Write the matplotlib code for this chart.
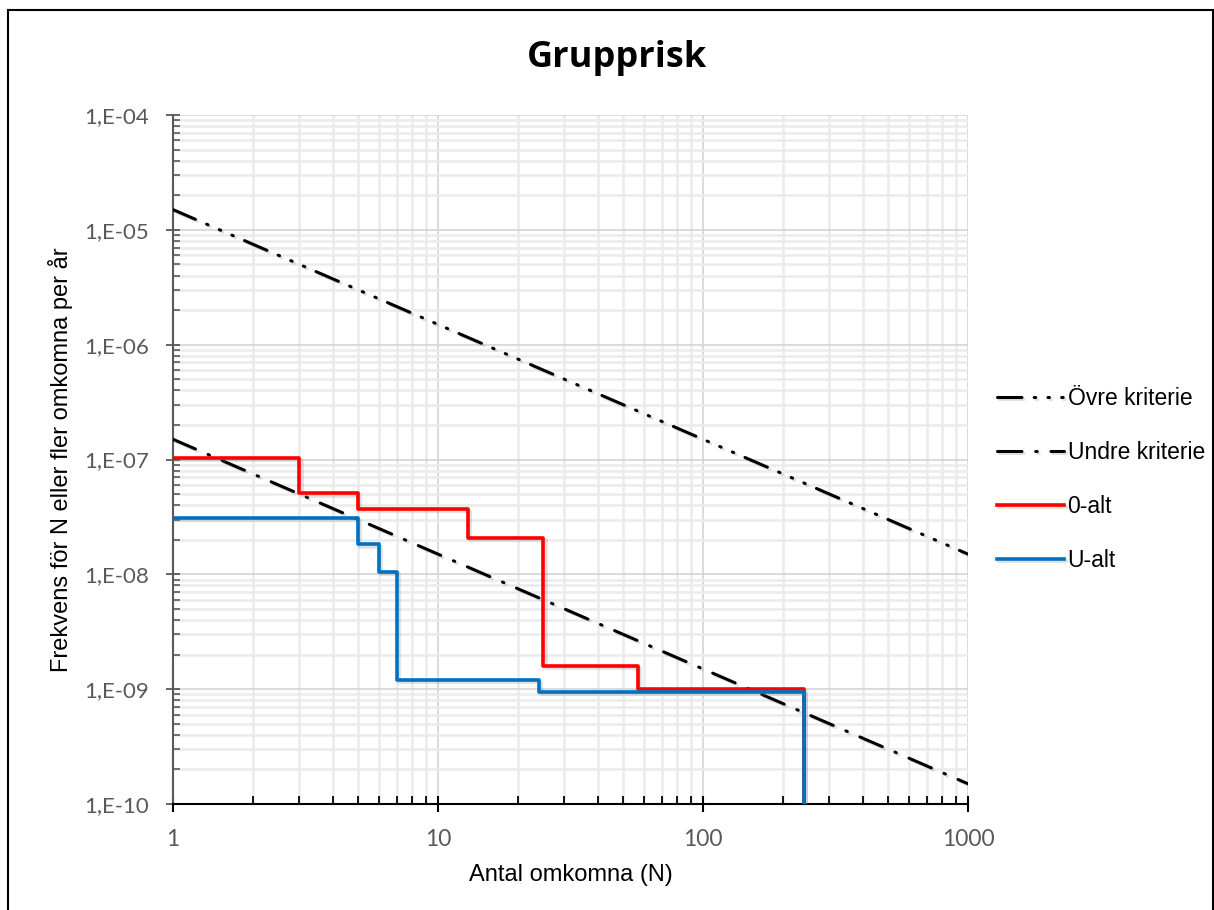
import matplotlib
matplotlib.use('Agg')
import matplotlib.pyplot as plt
import matplotlib.patheffects as pe
from matplotlib.patches import Rectangle
from matplotlib.ticker import LogLocator, FixedLocator, FuncFormatter, NullFormatter

# criteria lines (endpoints, log-log straight lines)
n_krit = [1, 1000]
ovre = [1.5e-5, 1.5e-8]
undre = [1.5e-7, 1.5e-10]

# 0-alt, steps (N, frequency)
n_0alt = [1, 3, 5, 13, 25, 57, 240, 240]
f_0alt = [1.03e-7, 5.06e-8, 3.74e-8, 2.09e-8, 1.58e-9, 1.0e-9, 1.0e-9, 1e-10]

# U-alt
n_ualt = [1, 5, 6, 7, 24, 240, 240]
f_ualt = [3.07e-8, 1.82e-8, 1.04e-8, 1.2e-9, 0.94e-9, 0.94e-9, 1e-10]

y_ticks = [1e-10, 1e-9, 1e-8, 1e-7, 1e-6, 1e-5, 1e-4]
y_labels = ['1,E-10', '1,E-09', '1,E-08', '1,E-07', '1,E-06', '1,E-05', '1,E-04']
x_ticks = [1, 10, 100, 1000]
x_labels = ['1', '10', '100', '1000']

arial = 'Liberation Sans'
tickfont = 'Lato'
grey = '#595959'

fig = plt.figure(figsize=(12.14, 9.10), dpi=100)
ax = fig.add_axes([173/1214, 1 - 804/910, (968-173)/1214, (804-115)/910])

shadow = [pe.SimpleLineShadow(offset=(1.5, -1.5), shadow_color='#808080', alpha=0.25), pe.Normal()]

ax.plot(n_krit, ovre, color='black', lw=2.2, label='Övre kriterie',
        linestyle=(0, (8, 4, 0.5, 4, 0.5, 4, 0.5, 4)), dash_capstyle='round',
        path_effects=shadow, zorder=3)
ax.plot(n_krit, undre, color='black', lw=2.2, label='Undre kriterie',
        linestyle=(0, (8, 4.5, 0.5, 4.5)), dash_capstyle='round',
        path_effects=shadow, zorder=3)
ax.step(n_0alt, f_0alt, where='post', color='#FF0000', lw=2.6, label='0-alt',
        path_effects=shadow, zorder=4)
ax.step(n_ualt, f_ualt, where='post', color='#0070C0', lw=2.6, label='U-alt',
        path_effects=shadow, zorder=5)

ax.set_xscale('log')
ax.set_yscale('log')
ax.set_xlim(1, 1000)
ax.set_ylim(1e-10, 1e-4)

ax.xaxis.set_major_locator(FixedLocator(x_ticks))
ax.xaxis.set_major_formatter(FuncFormatter(lambda v, p: x_labels[x_ticks.index(round(v))] if round(v) in x_ticks else ''))
ax.xaxis.set_minor_locator(LogLocator(base=10, subs=range(2, 10), numticks=20))
ax.xaxis.set_minor_formatter(NullFormatter())
ax.set_yticks(y_ticks)
ax.set_yticklabels(y_labels)
ax.yaxis.set_minor_locator(LogLocator(base=10, subs=range(2, 10), numticks=20))
ax.yaxis.set_minor_formatter(NullFormatter())

ax.grid(which='major', color='#d4d4d4', lw=1.2, zorder=0)
ax.grid(which='minor', color='#ebebeb', lw=1.8, zorder=0)
ax.set_axisbelow(True)

for s in ['top', 'right']:
    ax.spines[s].set_visible(False)
ax.spines['left'].set_color(grey)
ax.spines['left'].set_linewidth(1.5)
ax.spines['bottom'].set_color('black')
ax.spines['bottom'].set_linewidth(1.5)

ax.tick_params(axis='y', which='major', direction='inout', length=10, width=1.3, color=grey,
               labelsize=16, labelcolor=grey, pad=12)
ax.tick_params(axis='y', which='minor', direction='in', length=5, width=1.2, color=grey)
ax.tick_params(axis='x', which='major', direction='inout', length=12, width=1.5, color='black',
               labelsize=16.5, labelcolor=grey, pad=12)
ax.tick_params(axis='x', which='minor', direction='in', length=6, width=1.3, color='black')
for lab in ax.get_xticklabels() + ax.get_yticklabels():
    lab.set_fontfamily(tickfont)

ax.set_xlabel('Antal omkomna (N)', fontsize=17, family=arial, labelpad=10)
ax.set_ylabel('Frekvens för N eller fler omkomna per år', fontsize=17, family=arial, labelpad=8)

fig.text(0.508, 0.936, 'Grupprisk', fontsize=26, fontweight='bold', family='Open Sans',
         ha='center', va='center')

leg = ax.legend(loc='upper left', bbox_to_anchor=(1.010, 0.635), frameon=False,
                prop={'family': arial, 'size': 16.5}, handlelength=2.95, handletextpad=0.15,
                labelspacing=1.35)

# chart border
fig.add_artist(Rectangle((8/1214, -0.05), (1213-8)/1214, 1 - 10/910 + 0.05,
                         transform=fig.transFigure, fill=False, edgecolor='black', lw=1.5))

fig.savefig('out.png', dpi=100)
